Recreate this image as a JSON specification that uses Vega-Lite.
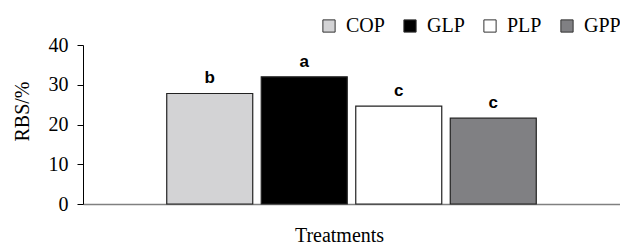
{
  "$schema": "https://vega.github.io/schema/vega-lite/v6.json",
  "width": 537,
  "height": 159,
  "autosize": {"type": "none"},
  "padding": {"left": 83, "top": 45, "right": 0, "bottom": 42},
  "background": "white",
  "data": {
    "values": [
      {"treatment": "COP", "rbs": 27.8, "sig": "b"},
      {"treatment": "GLP", "rbs": 32.0, "sig": "a"},
      {"treatment": "PLP", "rbs": 24.6, "sig": "c"},
      {"treatment": "GPP", "rbs": 21.6, "sig": "c"}
    ]
  },
  "config": {
    "view": {"stroke": null},
    "font": "Liberation Serif"
  },
  "encoding": {
    "x": {
      "field": "treatment",
      "type": "nominal",
      "sort": ["COP", "GLP", "PLP", "GPP"],
      "scale": {"paddingInner": 0.09, "paddingOuter": 0.886},
      "axis": {
        "title": "Treatments",
        "labels": false,
        "ticks": false,
        "domainColor": "#808080",
        "domainWidth": 1.5,
        "titleFont": "Liberation Serif",
        "titleFontSize": 20,
        "titleFontWeight": "normal",
        "titleColor": "black",
        "titleX": 256,
        "titleY": 37,
        "titleBaseline": "alphabetic",
        "titleAlign": "center"
      }
    },
    "y": {
      "field": "rbs",
      "type": "quantitative",
      "scale": {"domain": [0, 40], "nice": false},
      "axis": {
        "title": "RBS/%",
        "values": [0, 10, 20, 30, 40],
        "grid": false,
        "domainColor": "black",
        "tickColor": "black",
        "tickSize": 6,
        "labelPadding": 9,
        "labelFont": "Liberation Serif",
        "labelFontSize": 20,
        "labelColor": "black",
        "titleFont": "Liberation Serif",
        "titleFontSize": 20,
        "titleFontWeight": "normal",
        "titleColor": "black",
        "titleAngle": 270,
        "titleX": -55,
        "titleY": 66,
        "titleBaseline": "alphabetic",
        "titleAlign": "center"
      }
    }
  },
  "layer": [
    {
      "mark": {"type": "bar", "stroke": "#222222", "strokeWidth": 1.2},
      "encoding": {
        "fill": {
          "field": "treatment",
          "type": "nominal",
          "sort": ["COP", "GLP", "PLP", "GPP"],
          "scale": {
            "domain": ["COP", "GLP", "PLP", "GPP"],
            "range": ["#d3d3d5", "#000000", "#ffffff", "#808083"]
          },
          "legend": {
            "title": null,
            "orient": "none",
            "direction": "horizontal",
            "legendX": 236,
            "legendY": -29,
            "symbolType": "square",
            "symbolSize": 150,
            "symbolStrokeColor": "#333333",
            "symbolStrokeWidth": 1,
            "labelFont": "Liberation Serif",
            "labelFontSize": 20,
            "labelColor": "black",
            "labelOffset": 7,
            "columnPadding": 15
          }
        }
      }
    },
    {
      "mark": {"type": "text", "dy": -10, "baseline": "alphabetic", "font": "Liberation Sans", "fontWeight": "bold", "fontSize": 17, "color": "black"},
      "encoding": {
        "text": {"field": "sig"}
      }
    }
  ]
}
